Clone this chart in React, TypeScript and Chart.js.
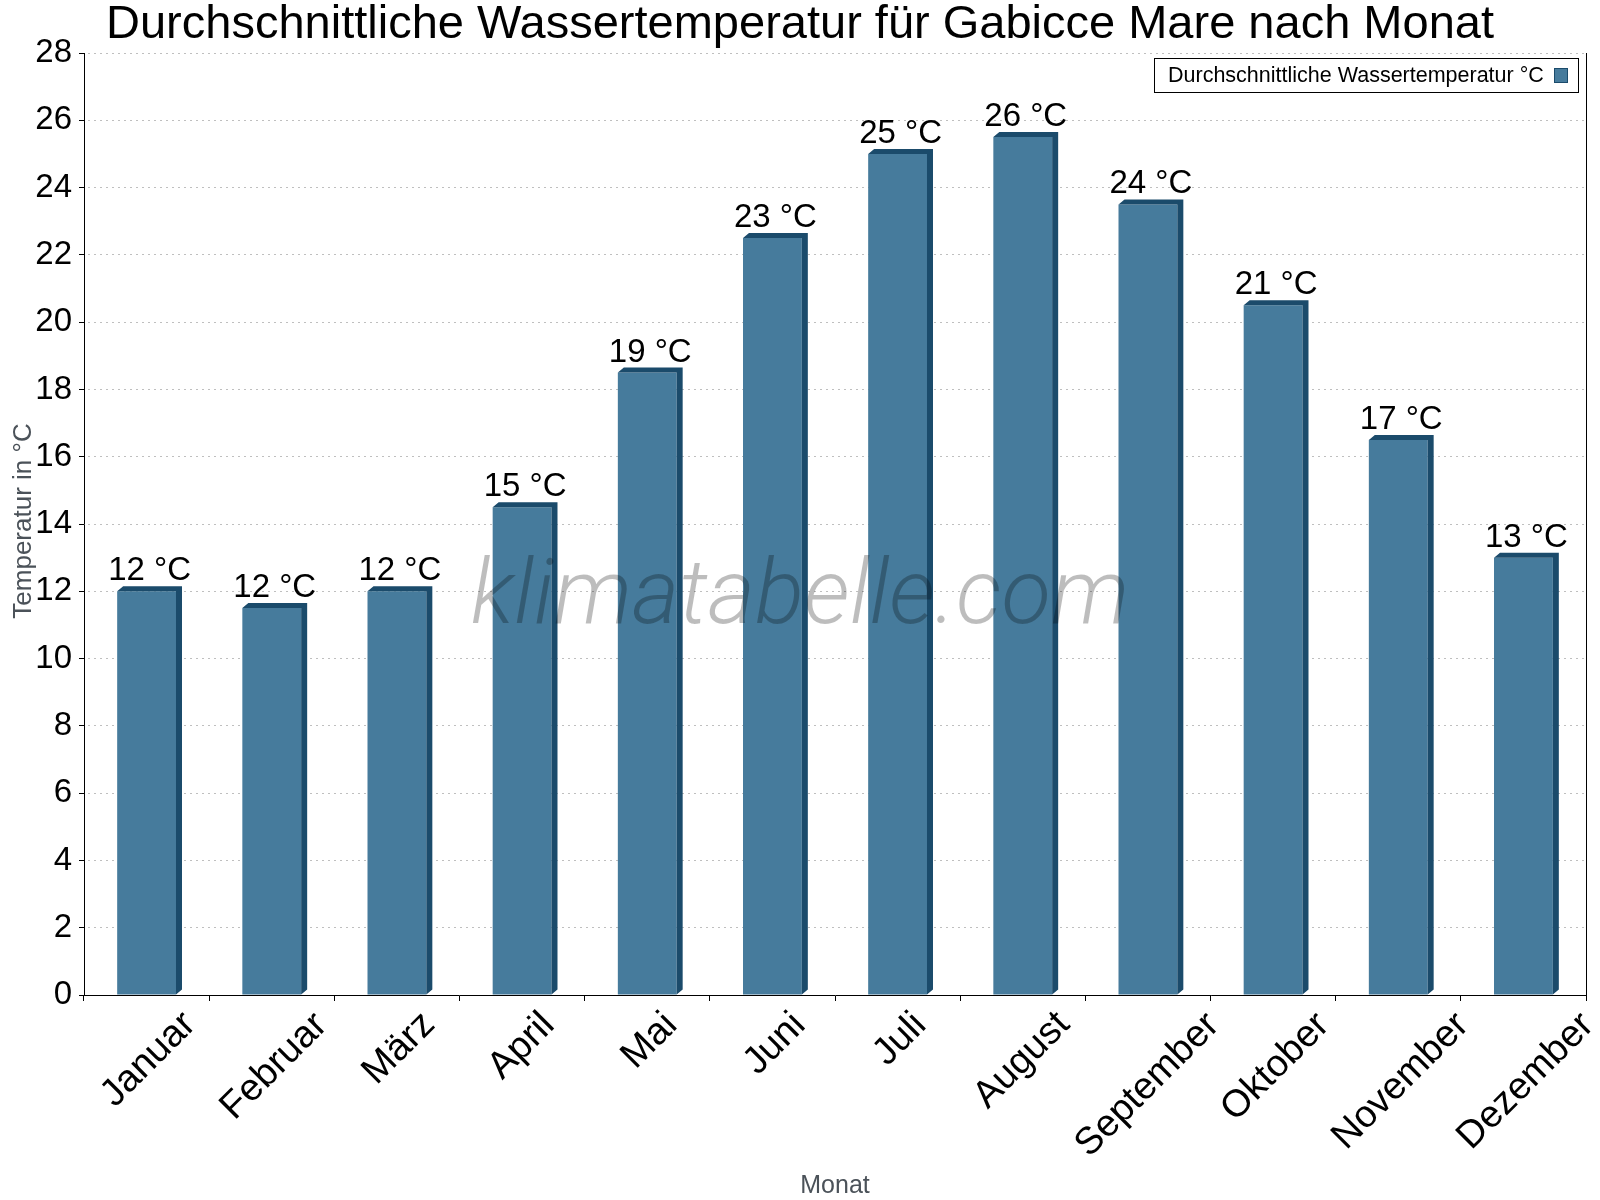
import React, { useEffect, useRef } from 'react';
import { Chart, registerables } from 'chart.js';

Chart.register(...registerables);

// data
const months = ['Januar', 'Februar', 'März', 'April', 'Mai', 'Juni', 'Juli', 'August', 'September', 'Oktober', 'November', 'Dezember'];
const waterTemp = [12, 11.5, 12, 14.5, 18.5, 22.5, 25, 25.5, 23.5, 20.5, 16.5, 13];
const labelTemps = [12, 12, 12, 15, 19, 23, 25, 26, 24, 21, 17, 13];
const seriesName = 'Durchschnittliche Wassertemperatur °C';
const chartTitle = 'Durchschnittliche Wassertemperatur für Gabicce Mare nach Monat';
const yTitle = 'Temperatur in °C';
const xTitle = 'Monat';
const watermark = 'klimatabelle.com';

const FONT = '"Liberation Sans", Arial, sans-serif';
const FRONT = '#467b9c';
const DARK = '#1b4b6b';
const AXIS_GREY = '#4b5259';
const DX = 6;
const DY = 5;

const decorPlugin = {
  id: 'decor',
  afterDatasetsDraw(chart: any) {
    const { ctx } = chart;
    const meta = chart.getDatasetMeta(0);
    ctx.save();
    meta.data.forEach((el: any, i: number) => {
      const { x, y, base, width } = el.getProps(['x', 'y', 'base', 'width'], true);
      const l = x - width / 2;
      const r = x + width / 2;
      // top + side face of the pseudo 3d bar
      ctx.fillStyle = DARK;
      ctx.beginPath();
      ctx.moveTo(l, y);
      ctx.lineTo(l + DX, y - DY);
      ctx.lineTo(r + DX, y - DY);
      ctx.lineTo(r + DX, base - DY);
      ctx.lineTo(r, base);
      ctx.lineTo(r, y);
      ctx.closePath();
      ctx.fill();

      ctx.fillStyle = '#000';
      ctx.font = `33px ${FONT}`;
      ctx.textAlign = 'center';
      ctx.textBaseline = 'alphabetic';
      ctx.fillText(`${labelTemps[i]} °C`, x + DX / 2, y - 11);
    });
    ctx.restore();
  },
  afterDraw(chart: any) {
    const { ctx, chartArea, scales } = chart;
    const { left, right, top, bottom } = chartArea;
    ctx.save();

    // right border line
    ctx.strokeStyle = '#000';
    ctx.lineWidth = 1;
    ctx.beginPath();
    ctx.moveTo(right + 0.5, top);
    ctx.lineTo(right + 0.5, bottom + 6);
    ctx.stroke();

    // title
    ctx.fillStyle = '#000';
    ctx.font = `47px ${FONT}`;
    ctx.textAlign = 'center';
    ctx.textBaseline = 'alphabetic';
    ctx.fillText(chartTitle, chart.width / 2, 38);

    // rotated month labels, bounding box top-centred on the category
    ctx.font = `38px ${FONT}`;
    months.forEach((m, i) => {
      const cx = scales.x.getPixelForValue(i);
      const tm = ctx.measureText(m);
      const w = tm.width;
      const asc = tm.actualBoundingBoxAscent;
      const desc = tm.actualBoundingBoxDescent;
      const half = (Math.SQRT1_2 * (w + asc + desc)) / 2;
      const cy = bottom + 12 + half;
      ctx.save();
      ctx.translate(cx, cy);
      ctx.rotate(-Math.PI / 4);
      ctx.textAlign = 'left';
      ctx.fillText(m, -w / 2, (asc - desc) / 2);
      ctx.restore();
    });

    // axis titles
    ctx.fillStyle = AXIS_GREY;
    ctx.font = `25px ${FONT}`;
    ctx.textAlign = 'center';
    ctx.fillText(xTitle, (left + right) / 2, 1193);
    ctx.save();
    ctx.translate(31, (top + bottom) / 2 - 3);
    ctx.rotate(-Math.PI / 2);
    ctx.font = `26px ${FONT}`;
    ctx.fillText(yTitle, 0, 0);
    ctx.restore();

    // legend box
    const lx = 1154, ly = 58, lw = 424, lh = 34;
    ctx.fillStyle = '#fff';
    ctx.fillRect(lx, ly, lw, lh);
    ctx.strokeStyle = '#000';
    ctx.strokeRect(lx + 0.5, ly + 0.5, lw, lh);
    ctx.fillStyle = '#000';
    ctx.font = `21.5px ${FONT}`;
    ctx.textAlign = 'left';
    ctx.fillText(seriesName, 1168, 82);
    ctx.fillStyle = FRONT;
    ctx.fillRect(1554, 68, 14, 15);
    ctx.strokeStyle = DARK;
    ctx.strokeRect(1554.5, 68.5, 13, 14);

    // watermark
    ctx.fillStyle = 'rgba(0,0,0,0.26)';
    ctx.font = 'italic 300 91px Roboto, "Open Sans", sans-serif';
    ctx.textAlign = 'center';
    ctx.fillText(watermark, chart.width / 2, 623);

    ctx.restore();
  },
};

const App: React.FC = () => {
  const canvasRef = useRef<HTMLCanvasElement>(null);
  const chartRef = useRef<Chart | null>(null);

  useEffect(() => {
    if (!canvasRef.current) return;
    if (chartRef.current) chartRef.current.destroy();

    chartRef.current = new Chart(canvasRef.current, {
      type: 'bar',
      data: {
        labels: months,
        datasets: [{
          label: seriesName,
          data: waterTemp,
          backgroundColor: FRONT,
          borderWidth: 0,
          categoryPercentage: 1,
          barPercentage: 0.47,
        }],
      },
      options: {
        responsive: false,
        animation: false,
        devicePixelRatio: 1,
        layout: { padding: { top: 53, right: 14, bottom: 0, left: 0 } },
        plugins: {
          legend: { display: false },
          title: { display: false },
          tooltip: { enabled: false },
        },
        scales: {
          x: {
            afterFit: (scale: any) => { scale.height = 205; },
            grid: {
              drawOnChartArea: false,
              drawTicks: true,
              tickLength: 6,
              tickColor: '#000',
            },
            border: { display: true, color: '#000', width: 1 },
            ticks: { display: false },
          },
          y: {
            min: 0,
            max: 28,
            afterFit: (scale: any) => { scale.width = 84; },
            ticks: {
              stepSize: 2,
              color: '#000',
              padding: 7,
              font: { family: FONT, size: 33 },
            },
            grid: {
              color: '#bfbfbf',
              tickColor: '#000',
              tickLength: 5,
            },
            border: { display: true, color: '#000', width: 1, dash: [2, 4], dashOffset: -3 },
          },
        },
      },
      plugins: [decorPlugin],
    });

    return () => {
      if (chartRef.current) {
        chartRef.current.destroy();
        chartRef.current = null;
      }
    };
  }, []);

  return (
    <div style={{ position: 'absolute', left: 0, top: 0, width: 1600, height: 1200, background: '#fff' }}>
      <canvas ref={canvasRef} width={1600} height={1200} />
    </div>
  );
};

export default App;
